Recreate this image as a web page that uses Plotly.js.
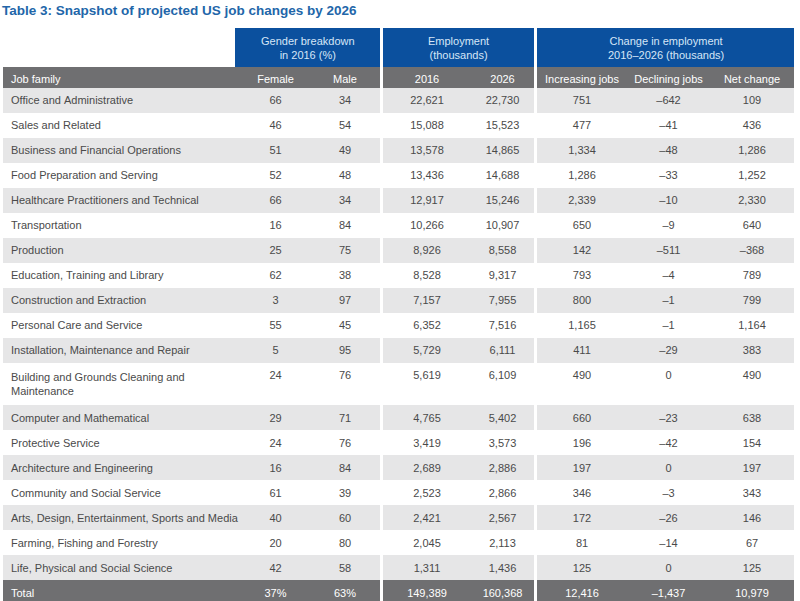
<!DOCTYPE html>
<html>
<head>
<meta charset="utf-8">
<script src="https://cdn.plot.ly/plotly-3.0.1.min.js"></script>
<style>
html, body { margin: 0; padding: 0; background: #ffffff; overflow: hidden; }
#chart { width: 800px; height: 610px; }
</style>
</head>
<body>
<div id="chart"></div>
<script>
// ---------- data ----------
const jobFamilies = [
  "Office and Administrative",
  "Sales and Related",
  "Business and Financial Operations",
  "Food Preparation and Serving",
  "Healthcare Practitioners and Technical",
  "Transportation",
  "Production",
  "Education, Training and Library",
  "Construction and Extraction",
  "Personal Care and Service",
  "Installation, Maintenance and Repair",
  "Building and Grounds Cleaning and<br>Maintenance",
  "Computer and Mathematical",
  "Protective Service",
  "Architecture and Engineering",
  "Community and Social Service",
  "Arts, Design, Entertainment, Sports and Media",
  "Farming, Fishing and Forestry",
  "Life, Physical and Social Science"
];
const femalePct = [66, 46, 51, 52, 66, 16, 25, 62, 3, 55, 5, 24, 29, 24, 16, 61, 40, 20, 42];
const malePct   = [34, 54, 49, 48, 34, 84, 75, 38, 97, 45, 95, 76, 71, 76, 84, 39, 60, 80, 58];
const emp2016 = [22621, 15088, 13578, 13436, 12917, 10266, 8926, 8528, 7157, 6352, 5729, 5619, 4765, 3419, 2689, 2523, 2421, 2045, 1311];
const emp2026 = [22730, 15523, 14865, 14688, 15246, 10907, 8558, 9317, 7955, 7516, 6111, 6109, 5402, 3573, 2886, 2866, 2567, 2113, 1436];
const increasingJobs = [751, 477, 1334, 1286, 2339, 650, 142, 793, 800, 1165, 411, 490, 660, 196, 197, 346, 172, 81, 125];
const decliningJobs  = [-642, -41, -48, -33, -10, -9, -511, -4, -1, -1, -29, 0, -23, -42, 0, -3, -26, -14, 0];
const netChange      = [109, 436, 1286, 1252, 2330, 640, -368, 789, 799, 1164, 383, 490, 638, 154, 197, 343, 146, 67, 125];

const totalLabel = "Total";
const totalFemale = "37%";
const totalMale = "63%";
const totalEmp2016 = 149389;
const totalEmp2026 = 160368;
const totalIncreasing = 12416;
const totalDeclining = -1437;
const totalNet = 10979;

const groupHeaders = ["Gender breakdown<br>in 2016 (%)", "Employment<br>(thousands)", "Change in employment<br>2016–2026 (thousands)"];
const colHeaders = ["Job family", "Female", "Male", "2016", "2026", "Increasing jobs", "Declining jobs", "Net change"];
const titleText = "Table 3: Snapshot of projected US job changes by 2026";

// ---------- styling helpers ----------
const W = 800, H = 610;
const fx = p => p / W;
const fy = p => 1 - p / H;

const FONT = "Liberation Sans, Arial, Helvetica, sans-serif";
const BLUE = "#0b509e";
const HEAD_GRAY = "#6f6f71";
const ROW_GRAY = "#e6e6e7";
const TEXT = "#4a4a4a";
const WHITE = "#ffffff";

const nb = s => String(s).replace(/ /g, "\u00a0");
const fmt = v => {
  const s = Math.abs(v).toLocaleString("en-US");
  return v < 0 ? "\u2013" + s : s;
};

const nRows = jobFamilies.length;
const rowFill = [], rowFont = [], spacerFill = [], blanks = [];
for (let i = 0; i < nRows; i++) {
  rowFill.push(i % 2 === 0 ? ROW_GRAY : WHITE);
  rowFont.push(TEXT);
}
rowFill.push(HEAD_GRAY);
rowFont.push(WHITE);
for (let i = 0; i <= nRows; i++) { spacerFill.push(WHITE); blanks.push(""); }

const withTotal = (values, totalVal) => values.concat([totalVal]).map(nb);

// columns incl. two narrow white spacer columns separating the groups
const columns = [
  withTotal(jobFamilies, totalLabel),
  withTotal(femalePct, totalFemale),
  withTotal(malePct, totalMale),
  blanks,
  withTotal(emp2016.map(fmt), fmt(totalEmp2016)),
  withTotal(emp2026.map(fmt), fmt(totalEmp2026)),
  blanks,
  withTotal(increasingJobs.map(fmt), fmt(totalIncreasing)),
  withTotal(decliningJobs.map(fmt), fmt(totalDeclining)),
  withTotal(netChange.map(fmt), fmt(totalNet))
];
const isSpacer = [false, false, false, true, false, false, true, false, false, false];
const headers = [colHeaders[0], colHeaders[1], colHeaders[2], "", colHeaders[3], colHeaders[4], "", colHeaders[5], colHeaders[6], colHeaders[7]].map(nb);
const widths = [238, 69, 70, 3, 88, 63, 3, 90, 83, 84];
const aligns = ["left", "center", "center", "center", "center", "center", "center", "center", "center", "center"];

const tableTop = 67;

const table = {
  type: "table",
  domain: { x: [fx(3), fx(794)], y: [0, fy(tableTop)] },
  columnwidth: widths,
  header: {
    values: headers,
    align: aligns,
    height: 21,
    fill: { color: isSpacer.map(s => s ? WHITE : HEAD_GRAY) },
    line: { color: "rgba(0,0,0,0)", width: 0 },
    font: { family: FONT, size: 11, color: WHITE }
  },
  cells: {
    values: columns,
    align: aligns,
    height: 25,
    fill: { color: isSpacer.map(s => s ? spacerFill : rowFill) },
    line: { color: "rgba(0,0,0,0)", width: 0 },
    font: { family: FONT, size: 11, color: columns.map(() => rowFont) }
  }
};

const boxes = [[235, 380], [383, 534], [537, 794]];
const shapes = boxes.map(b => ({
  type: "rect", xref: "paper", yref: "paper",
  x0: fx(b[0]), x1: fx(b[1]), y0: fy(67), y1: fy(28),
  fillcolor: BLUE, line: { width: 0 }, layer: "below"
}));
const annotations = boxes.map((b, i) => ({
  xref: "paper", yref: "paper",
  x: fx((b[0] + b[1]) / 2), y: fy(47.5),
  xanchor: "center", yanchor: "middle",
  text: groupHeaders[i], showarrow: false, align: "center",
  font: { family: FONT, size: 11, color: "#d6e6f7" }
}));
annotations.push({
  xref: "paper", yref: "paper", x: fx(0), y: fy(11),
  xanchor: "left", yanchor: "middle", showarrow: false,
  text: "<b>" + titleText + "</b>",
  font: { family: FONT, size: 13.5, color: "#2266a9" }
});

Plotly.newPlot("chart", [table], {
  width: W, height: H,
  margin: { l: 0, r: 0, t: 0, b: 0, pad: 0 },
  paper_bgcolor: WHITE,
  plot_bgcolor: WHITE,
  shapes: shapes,
  annotations: annotations,
  showlegend: false
}, { displayModeBar: false, staticPlot: true });
</script>
</body>
</html>
